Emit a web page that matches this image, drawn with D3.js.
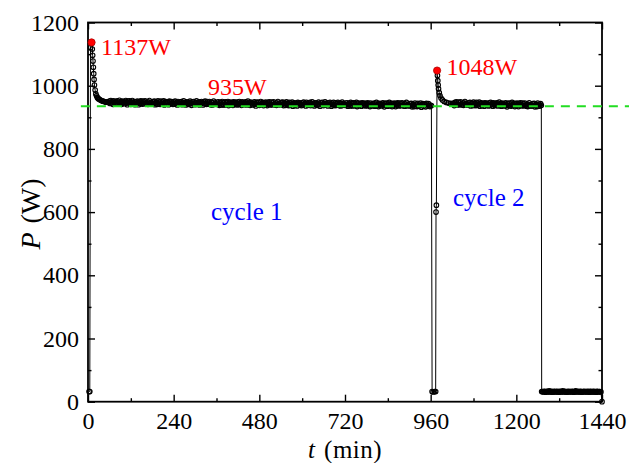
<!DOCTYPE html>
<html>
<head>
<meta charset="utf-8">
<script src="https://cdn.jsdelivr.net/npm/d3@7/dist/d3.min.js"></script>
<style>
  html, body { margin: 0; padding: 0; background: #fff; }
  svg { display: block; font-family: "Liberation Serif", "Times New Roman", serif; }
</style>
</head>
<body>
<svg id="chart" width="629" height="463"></svg>
<script>
// ---- data (time in min, power in W) ----
// cycle 1 start-up spike and decay
const c1StartT = [3, 5, 7, 10, 12, 13, 14, 15, 16, 17, 18, 20, 22, 24, 26, 28, 30, 33, 36, 39, 42, 45, 48, 51, 54, 57];
const c1StartP = [32, 32, 1120, 1137, 1116, 1096, 1078, 1058, 1038, 1020, 1002, 986, 974, 968, 963, 960, 958, 956, 954, 952, 951, 950, 949, 948, 948, 947];

// cycle 1 steady operation, one sample every 2 min from t = 60
const c1PlateauStart = 60;
const plateauStep = 2;
const c1Plateau = [
  951, 944, 953, 946, 949, 941, 952, 947, 943, 950,
  945, 952, 942, 948, 954, 944, 949, 941, 951, 946,
  950, 943, 948, 953, 945, 940, 951, 946, 952, 944,
  941, 948, 953, 943, 946, 950, 940, 949, 944, 951,
  947, 940, 950, 944, 952, 945, 942, 951, 943, 948,
  952, 945, 942, 949, 941, 948, 953, 943, 947, 944,
  943, 950, 944, 951, 940, 947, 949, 941, 952, 942,
  948, 941, 951, 942, 949, 944, 952, 939, 947, 950,
  942, 947, 949, 940, 951, 948, 943, 950, 945, 941,
  949, 942, 951, 944, 947, 939, 950, 945, 941, 948,
  943, 950, 940, 946, 952, 942, 947, 939, 949, 944,
  948, 941, 946, 951, 943, 938, 949, 944, 950, 942,
  940, 947, 952, 942, 945, 949, 939, 948, 943, 950,
  946, 939, 949, 943, 951, 944, 941, 950, 942, 947,
  950, 943, 940, 947, 939, 946, 951, 941, 945, 942,
  941, 948, 942, 949, 938, 945, 947, 939, 950, 940,
  946, 939, 949, 940, 947, 942, 950, 937, 945, 948,
  940, 945, 947, 938, 949, 946, 941, 948, 943, 939,
  948, 941, 950, 943, 946, 938, 949, 944, 940, 947,
  942, 949, 939, 945, 951, 941, 946, 938, 948, 943,
  946, 939, 944, 949, 941, 936, 947, 942, 948, 940,
  938, 945, 950, 940, 943, 947, 937, 946, 941, 948,
  944, 937, 947, 941, 949, 942, 939, 948, 940, 945,
  949, 942, 939, 946, 938, 945, 950, 940, 944, 941,
  940, 947, 941, 948, 937, 944, 946, 938, 949, 939,
  944, 937, 947, 938, 945, 940, 948, 935, 943, 946,
  938, 943, 945, 936, 947, 944, 939, 946, 941, 937,
  946, 939, 948, 941, 944, 936, 947, 942, 938, 945,
  940, 947, 937, 943, 949, 939, 944, 936, 946, 941,
  945, 938, 943, 948, 940, 935, 946, 941, 947, 939,
  937, 944, 949, 939, 942, 946, 936, 945, 940, 947,
  942, 935, 945, 939, 947, 940, 937, 946, 938, 943,
  947, 940, 937, 944, 936, 943, 948, 938, 942, 939,
  938, 945, 939, 946, 935, 942, 944, 936, 947, 937,
  943, 936, 946, 937, 944, 939, 947, 934, 942, 945,
  937, 942, 944, 935, 946, 943, 938, 945, 940, 936,
  944, 937, 946, 939, 942, 934, 945, 940, 936, 943,
  938, 945, 935, 941, 947, 937, 942, 934, 944, 939,
  943, 936, 941, 946, 938, 933, 944, 939, 945, 937,
  935, 942, 947, 937, 940, 944, 934, 943, 938, 945,
  941, 934, 944, 938, 946, 939, 936, 945, 937, 942,
  946, 939, 936, 943, 935, 942, 947, 937, 941, 938,
  936, 943, 937, 944, 933, 940, 942, 934, 945, 935,
  941, 934, 944, 935, 942, 937, 945, 932, 940, 943,
  935, 940, 942, 933, 944, 941, 936, 943, 938, 934,
  938
];

// shutdown between cycles, cycle 2 start-up spike and decay
const c2StartT = [962, 964, 967, 971, 974, 975, 976, 978, 979, 980, 981, 982, 984, 986, 989, 993, 998, 1004, 1010, 1016, 1020, 1022];
const c2StartP = [937, 32, 31, 32, 32, 600, 622, 1048, 1032, 1016, 1002, 990, 978, 969, 961, 955, 950, 947, 945, 944, 943, 942];

// cycle 2 steady operation, every 2 min from t = 1024
const c2PlateauStart = 1024;
const c2Plateau = [
  944, 937, 947, 941, 949, 942, 939, 948, 940, 945,
  949, 942, 939, 946, 938, 945, 950, 940, 944, 941,
  939, 946, 940, 947, 936, 943, 945, 937, 948, 938,
  944, 937, 947, 938, 945, 940, 948, 935, 943, 946,
  937, 942, 944, 935, 946, 943, 938, 945, 940, 936,
  945, 938, 947, 940, 943, 935, 946, 941, 937, 944,
  939, 946, 936, 942, 948, 938, 943, 935, 945, 940,
  943, 936, 941, 946, 938, 933, 944, 939, 945, 937,
  935, 942, 947, 937, 940, 944, 934, 943, 938, 945,
  941, 934, 944, 938, 946, 939, 936, 945, 937, 942,
  945, 938, 935, 942, 934, 941, 946, 936, 940, 937,
  936, 943, 937, 944, 933, 940, 942, 934, 945, 935,
  941, 936, 943, 938
];

// standby after cycle 2, every 2 min from t = 1274
const idleStart = 1274;
const idleStep = 2;
const idleP = [
  32, 31, 33, 32, 30, 32, 33, 31, 32, 34, 31, 32, 33, 30, 32, 31, 33, 32, 31, 32,
  33, 31, 32, 30, 33, 32, 31, 32, 34, 31, 32, 33, 31, 32, 30, 32, 33, 31, 32, 32,
  31, 33, 32, 30, 32, 31, 34, 32, 31, 33, 32, 31, 32, 33, 30, 32, 31, 32, 33, 31,
  32, 32, 31, 33, 32, 30, 32, 33, 31, 32, 31, 33, 32, 31, 32, 30, 33, 32, 31, 32, 32
];
const endT = [1437, 1440];
const endP = [31, 0];

// annotated peaks and mean level
const peakT = [10, 978];
const peakP = [1137, 1048];
const meanP = 935;

// axis ticks
const xMajor = [0, 240, 480, 720, 960, 1200, 1440];
const xMinor = [120, 360, 600, 840, 1080, 1320];
const yMajor = [0, 200, 400, 600, 800, 1000, 1200];
const yMinor = [100, 300, 500, 700, 900, 1100];

// ---- assemble the series ----
const series = [];
c1StartT.forEach((t, i) => series.push([t, c1StartP[i]]));
c1Plateau.forEach((p, i) => series.push([c1PlateauStart + i * plateauStep, p]));
c2StartT.forEach((t, i) => series.push([t, c2StartP[i]]));
c2Plateau.forEach((p, i) => series.push([c2PlateauStart + i * plateauStep, p]));
series.push([1271, 32]);
idleP.forEach((p, i) => series.push([idleStart + i * idleStep, p]));
endT.forEach((t, i) => series.push([t, endP[i]]));

// ---- layout ----
const svg = d3.select("#chart");
const plotL = 88, plotR = 602, plotT = 22.5, plotB = 401.7;
const x = d3.scaleLinear().domain([0, 1440]).range([plotL, plotR]);
const y = d3.scaleLinear().domain([0, 1200]).range([plotB, plotT]);

const serif = '"Liberation Serif", "Times New Roman", serif';
const fontTick = 24;

// axes with inward ticks on all four sides
function styleAxis(g) {
  g.attr("font-family", serif);
  g.select(".domain").remove();
  g.selectAll(".tick line").attr("stroke", "#000").attr("stroke-width", 1.4);
  g.selectAll(".tick text").attr("fill", "#000").attr("font-size", fontTick);
}
const majorLen = 7, minorLen = 3.5;

svg.append("g").attr("transform", `translate(0,${plotB})`)
  .call(d3.axisBottom(x).tickValues(xMajor).tickSizeInner(-majorLen).tickSizeOuter(0).tickPadding(10.5).tickFormat(d3.format("d")))
  .call(styleAxis);
svg.append("g").attr("transform", `translate(0,${plotB})`)
  .call(d3.axisBottom(x).tickValues(xMinor).tickSizeInner(-minorLen).tickSizeOuter(0).tickFormat(""))
  .call(styleAxis);
svg.append("g").attr("transform", `translate(0,${plotT})`)
  .call(d3.axisTop(x).tickValues(xMajor).tickSizeInner(-majorLen).tickSizeOuter(0).tickFormat(""))
  .call(styleAxis);
svg.append("g").attr("transform", `translate(0,${plotT})`)
  .call(d3.axisTop(x).tickValues(xMinor).tickSizeInner(-minorLen).tickSizeOuter(0).tickFormat(""))
  .call(styleAxis);

svg.append("g").attr("transform", `translate(${plotL},0)`)
  .call(d3.axisLeft(y).tickValues(yMajor).tickSizeInner(-majorLen).tickSizeOuter(0).tickPadding(9).tickFormat(d3.format("d")))
  .call(styleAxis);
svg.append("g").attr("transform", `translate(${plotL},0)`)
  .call(d3.axisLeft(y).tickValues(yMinor).tickSizeInner(-minorLen).tickSizeOuter(0).tickFormat(""))
  .call(styleAxis);
svg.append("g").attr("transform", `translate(${plotR},0)`)
  .call(d3.axisRight(y).tickValues(yMajor).tickSizeInner(-majorLen).tickSizeOuter(0).tickFormat(""))
  .call(styleAxis);
svg.append("g").attr("transform", `translate(${plotR},0)`)
  .call(d3.axisRight(y).tickValues(yMinor).tickSizeInner(-minorLen).tickSizeOuter(0).tickFormat(""))
  .call(styleAxis);

// frame
svg.append("rect")
  .attr("x", plotL).attr("y", plotT)
  .attr("width", plotR - plotL).attr("height", plotB - plotT)
  .attr("fill", "none").attr("stroke", "#000").attr("stroke-width", 1.8);

// measured power: open markers joined by a thin line
const line = d3.line().x(d => x(d[0])).y(d => y(d[1]));
svg.append("g").selectAll("circle").data(series).join("circle")
  .attr("cx", d => x(d[0])).attr("cy", d => y(d[1]))
  .attr("r", 2.3).attr("fill", "none").attr("stroke", "#000").attr("stroke-width", 1.1);
svg.append("path").datum(series)
  .attr("d", line).attr("fill", "none")
  .attr("stroke", "#000").attr("stroke-width", 1);

// mean level (dashed, running past the frame)
svg.append("line")
  .attr("x1", x(-20)).attr("x2", x(1520))
  .attr("y1", y(meanP)).attr("y2", y(meanP))
  .attr("stroke", "#22dd22").attr("stroke-width", 2)
  .attr("stroke-dasharray", "9,7");

// peaks
svg.append("g").selectAll("circle").data(peakT).join("circle")
  .attr("cx", (d) => x(d)).attr("cy", (d, i) => y(peakP[i]))
  .attr("r", 3.6).attr("fill", "#ff0000").attr("stroke", "#b00000").attr("stroke-width", 0.8);

// annotations
const ann = svg.append("g").attr("font-family", serif).attr("font-size", 24);
ann.append("text").attr("x", x(peakT[0]) + 9.5).attr("y", y(peakP[0]) + 12.5)
  .attr("fill", "#ff0000").text(peakP[0] + "W");
ann.append("text").attr("x", x(peakT[1]) + 9.5).attr("y", y(peakP[1]) + 4)
  .attr("fill", "#ff0000").text(peakP[1] + "W");
ann.append("text").attr("x", 208).attr("y", 95)
  .attr("fill", "#ff0000").text(meanP + "W");
ann.append("text").attr("x", 211).attr("y", 220).attr("font-size", 25)
  .attr("fill", "#0000ff").text("cycle 1");
ann.append("text").attr("x", 453).attr("y", 206).attr("font-size", 25)
  .attr("fill", "#0000ff").text("cycle 2");

// axis titles
const xt = svg.append("text").attr("x", 345).attr("y", 457.5)
  .attr("text-anchor", "middle").attr("font-family", serif).attr("font-size", 25)
  .attr("word-spacing", 2).attr("letter-spacing", 0.5).attr("fill", "#000");
xt.append("tspan").attr("font-style", "italic").text("t");
xt.append("tspan").text(" (min)");

const yt = svg.append("text").attr("transform", "translate(40,214) rotate(-90)")
  .attr("text-anchor", "middle").attr("font-family", serif).attr("font-size", 28)
  .attr("word-spacing", 2).attr("fill", "#000");
yt.append("tspan").attr("font-style", "italic").text("P");
yt.append("tspan").text(" (W)");
</script>
</body>
</html>
